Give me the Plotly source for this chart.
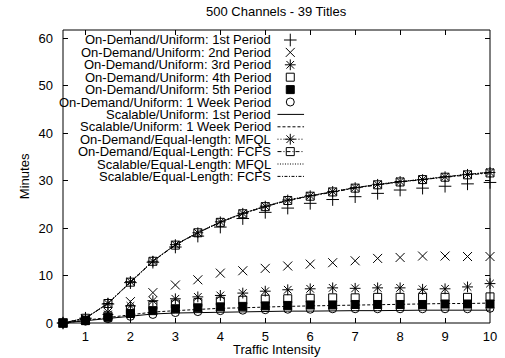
import plotly.graph_objects as go

# Traffic intensity sample points
traffic = [0.5, 1.0, 1.5, 2.0, 2.5, 3.0, 3.5, 4.0, 4.5, 5.0,
           5.5, 6.0, 6.5, 7.0, 7.5, 8.0, 8.5, 9.0, 9.5, 10.0]

# Waiting time in minutes, one list per policy
od_uni_p1 = [0, 1.0, 4.0, 8.5, 12.8, 16.0, 18.3, 20.2, 22.0, 23.3,
             24.2, 25.2, 26.0, 26.6, 27.3, 28.0, 28.4, 28.8, 29.3, 29.6]
od_uni_p2 = [0, 0.8, 2.3, 4.5, 6.4, 8.0, 9.1, 10.5, 11.0, 11.5,
             12.0, 12.4, 12.7, 13.1, 13.6, 13.8, 14.1, 14.1, 14.0, 14.0]
od_uni_p3 = [0, 0.7, 1.8, 3.6, 4.7, 5.1, 5.5, 5.8, 6.3, 6.7,
             7.0, 7.2, 7.4, 7.3, 7.4, 7.4, 7.1, 7.2, 7.6, 8.3]
od_uni_p4 = [0, 0.6, 1.5, 2.8, 3.7, 4.0, 4.3, 4.6, 4.8, 5.0,
             5.1, 5.2, 5.3, 5.3, 5.4, 5.4, 5.4, 5.4, 5.4, 5.5]
od_uni_p5 = [0, 0.5, 1.2, 2.0, 2.6, 3.0, 3.2, 3.4, 3.5, 3.6,
             3.7, 3.8, 3.8, 3.9, 3.9, 3.9, 3.9, 4.0, 4.0, 4.0]
od_uni_week = [0, 0.4, 0.9, 1.4, 1.8, 2.2, 2.4, 2.6, 2.7, 2.8,
               2.9, 2.9, 3.0, 3.0, 3.0, 3.0, 3.0, 3.0, 3.0, 3.1]
sc_uni_p1 = [0, 0.5, 1.0, 1.5, 1.9, 2.1, 2.2, 2.3, 2.4, 2.4,
             2.5, 2.5, 2.6, 2.6, 2.6, 2.7, 2.7, 2.7, 2.7, 2.7]
sc_uni_week = [0, 0.6, 1.2, 1.8, 2.3, 2.6, 2.9, 3.1, 3.2, 3.4,
               3.5, 3.6, 3.7, 3.8, 3.9, 4.0, 4.0, 4.1, 4.1, 4.2]
od_eq_mfql = [0, 1.0, 4.1, 8.7, 13.0, 16.5, 19.0, 21.3, 23.1, 24.6,
              25.9, 26.8, 27.7, 28.5, 29.2, 29.8, 30.2, 30.8, 31.3, 31.7]
od_eq_fcfs = [0, 1.0, 4.1, 8.6, 13.0, 16.4, 19.0, 21.2, 23.0, 24.5,
              25.8, 26.7, 27.6, 28.4, 29.1, 29.7, 30.2, 30.7, 31.2, 31.6]
sc_eq_mfql = [0, 1.0, 4.2, 8.7, 13.1, 16.5, 19.1, 21.3, 23.1, 24.6,
              25.9, 26.8, 27.7, 28.5, 29.2, 29.8, 30.3, 30.8, 31.3, 31.8]
sc_eq_fcfs = [0, 1.0, 4.1, 8.6, 13.0, 16.5, 19.0, 21.2, 23.1, 24.5,
              25.8, 26.8, 27.7, 28.5, 29.1, 29.8, 30.2, 30.8, 31.3, 31.7]

x_ticks = [1, 2, 3, 4, 5, 6, 7, 8, 9, 10]
y_ticks = [0, 10, 20, 30, 40, 50, 60]

title_text = "500 Channels - 39 Titles"
x_title = "Traffic Intensity"
y_title = "Minutes"

FONT = "Liberation Sans, Arial, Helvetica, sans-serif"
FS = 13
INK = "black"

# (name, data, mode, marker symbol, marker size, dash)
series = [
    ("On-Demand/Uniform: 1st Period", od_uni_p1, "markers", "cross-thin-open", 9, None),
    ("On-Demand/Uniform: 2nd Period", od_uni_p2, "markers", "x-thin-open", 9, None),
    ("On-Demand/Uniform: 3rd Period", od_uni_p3, "markers", "asterisk-open", 9, None),
    ("On-Demand/Uniform: 4th Period", od_uni_p4, "markers", "square-open", 8, None),
    ("On-Demand/Uniform: 5th Period", od_uni_p5, "markers", "square", 8, None),
    ("On-Demand/Uniform: 1 Week Period", od_uni_week, "markers", "circle-open", 8, None),
    ("Scalable/Uniform: 1st Period", sc_uni_p1, "lines", None, 0, "solid"),
    ("Scalable/Uniform: 1 Week Period", sc_uni_week, "lines", None, 0, "3px,2px"),
    ("On-Demand/Equal-length: MFQL", od_eq_mfql, "lines+markers", "asterisk-open", 9, "1px,2px"),
    ("On-Demand/Equal-Length: FCFS", od_eq_fcfs, "lines+markers", "square-open", 8, "4px,2px,1px,2px"),
    ("Scalable/Equal-Length: MFQL", sc_eq_mfql, "lines", None, 0, "1px,1.5px"),
    ("Scalable/Equal-Length: FCFS", sc_eq_fcfs, "lines", None, 0, "3px,1.5px,1px,1.5px"),
]

fig = go.Figure()


def marker_style(symbol, size):
    if symbol is None:
        return None
    return dict(symbol=symbol, size=size, color=INK,
                line=dict(color=INK, width=1))


for name, values, mode, symbol, size, dash in series:
    kw = dict(x=traffic, y=values, mode=mode, name=name, showlegend=False,
              cliponaxis=False)
    if "markers" in mode:
        kw["marker"] = marker_style(symbol, size)
    if "lines" in mode:
        kw["line"] = dict(color=INK, width=1, dash=dash)
    fig.add_trace(go.Scatter(**kw))

# Key in the top-left corner: right-aligned labels with samples on their right.
# A pixel-scaled overlay axis places the key samples.
W, H = 505, 358
L, R, T, B = 63, 497, 30, 323
row0, row_gap = 40, 12.4
text_right = 275
samp_left, samp_right, samp_mid = 281, 308, 294


def px_to_paper_x(px):
    return (px - L) / (R - L)


def px_to_paper_y(py):
    return (B - py) / (B - T)


for i, (name, values, mode, symbol, size, dash) in enumerate(series):
    yrow = row0 + i * row_gap
    fig.add_annotation(x=px_to_paper_x(text_right), y=px_to_paper_y(yrow),
                       xref="paper", yref="paper", borderpad=0,
                       text=name, showarrow=False, xanchor="right",
                       yanchor="middle",
                       font=dict(family=FONT, size=FS, color=INK))
    if "lines" in mode:
        fig.add_trace(go.Scatter(x=[samp_left, samp_right], y=[yrow, yrow],
                                 mode="lines", xaxis="x2", yaxis="y2",
                                 showlegend=False, hoverinfo="skip",
                                 line=dict(color=INK, width=1, dash=dash)))
    if "markers" in mode:
        fig.add_trace(go.Scatter(x=[samp_mid], y=[yrow], mode="markers",
                                 xaxis="x2", yaxis="y2", showlegend=False,
                                 hoverinfo="skip",
                                 marker=marker_style(symbol, size)))

fig.add_annotation(x=0.5, y=px_to_paper_y(12), xref="paper", yref="paper",
                   yanchor="middle", text=title_text, showarrow=False,
                   font=dict(family=FONT, size=FS, color=INK))
fig.add_annotation(x=0.5, y=px_to_paper_y(349), xref="paper", yref="paper",
                   yanchor="middle", text=x_title, showarrow=False,
                   font=dict(family=FONT, size=FS, color=INK))
fig.add_annotation(x=px_to_paper_x(24), y=0.5, xref="paper", yref="paper",
                   xanchor="center", yanchor="middle",
                   text=y_title, showarrow=False, textangle=-90,
                   font=dict(family=FONT, size=FS, color=INK))

# Plot frame
fig.add_shape(type="rect", xref="paper", yref="paper", x0=0, y0=0, x1=1, y1=1,
              line=dict(color=INK, width=1), layer="above")

axis_common = dict(ticks="inside", ticklen=5, tickcolor=INK, showline=False,
                   showgrid=False, zeroline=False)

fig.update_layout(
    width=W, height=H,
    margin=dict(l=L, r=W - R, t=T, b=H - B),
    paper_bgcolor="white", plot_bgcolor="white",
    font=dict(family=FONT, size=FS, color=INK),
    xaxis=dict(range=[0.5, 10], tickvals=x_ticks, ticklabelstandoff=4,
               tickfont=dict(family=FONT, size=FS, color=INK), **axis_common),
    yaxis=dict(range=[0, 61.7], tickvals=y_ticks, ticklabelstandoff=9,
               tickfont=dict(family=FONT, size=FS, color=INK), **axis_common),
    # mirrored tick marks on the top and right edges
    xaxis3=dict(range=[0.5, 10], tickvals=x_ticks, overlaying="x", side="top",
                anchor="y", showticklabels=False, fixedrange=True, **axis_common),
    yaxis3=dict(range=[0, 61.7], tickvals=y_ticks, overlaying="y", side="right",
                anchor="x", showticklabels=False, fixedrange=True, **axis_common),
    # pixel-scaled axes used only for the key samples
    xaxis2=dict(range=[L, R], overlaying="x", visible=False, fixedrange=True),
    yaxis2=dict(range=[B, T], overlaying="y", visible=False, fixedrange=True),
)

# attach the tick-only axes to an empty trace so they get drawn
fig.add_trace(go.Scatter(x=[None], y=[None], xaxis="x3", yaxis="y3",
                         showlegend=False, hoverinfo="skip"))

fig.write_html("out.html")
